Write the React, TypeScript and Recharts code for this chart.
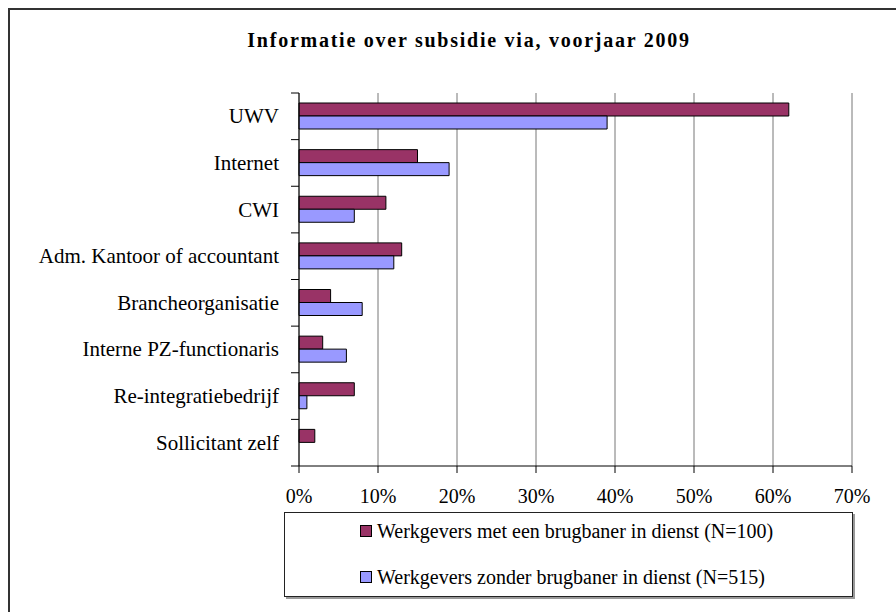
import React from "react";
import { BarChart, Bar, XAxis, YAxis, CartesianGrid, Legend } from "recharts";

const categories = [
  "UWV",
  "Internet",
  "CWI",
  "Adm. Kantoor of accountant",
  "Brancheorganisatie",
  "Interne PZ-functionaris",
  "Re-integratiebedrijf",
  "Sollicitant zelf",
];
const metBrugbaner = [62, 15, 11, 13, 4, 3, 7, 2];
const zonderBrugbaner = [39, 19, 7, 12, 8, 6, 1, 0];
const seriesNames = [
  "Werkgevers met een brugbaner in dienst (N=100)",
  "Werkgevers zonder brugbaner in dienst (N=515)",
];
const xTicks = [0, 10, 20, 30, 40, 50, 60, 70];
const title = "Informatie over subsidie via, voorjaar 2009";

const data = categories.map((c, i) => ({
  name: c,
  met: metBrugbaner[i],
  zonder: zonderBrugbaner[i],
}));

const FONT = "Liberation Serif, Tinos, Times New Roman, Times, DejaVu Serif, serif";
const W = 896;
const H = 612;
const M = { top: 93, right: 44, bottom: 0, left: 0 };
const XAXIS_H = 146;
const PLOT_H = H - M.top - M.bottom - XAXIS_H;
const BAND = PLOT_H / categories.length;

const YTick = (props: any) => {
  const { x, y, payload, index } = props;
  const axisX = x + 20;
  return (
    <g>
      <line x1={axisX - 8} x2={axisX} y1={y - BAND / 2} y2={y - BAND / 2} stroke="#000" />
      {index === categories.length - 1 && (
        <line x1={axisX - 8} x2={axisX} y1={y + BAND / 2} y2={y + BAND / 2} stroke="#000" />
      )}
      <text
        x={x}
        y={y}
        textAnchor="end"
        dominantBaseline="central"
        style={{ fontFamily: FONT, fontSize: 21 }}
        fill="#000"
      >
        {payload.value}
      </text>
    </g>
  );
};

const LegendContent = (props: any) => {
  const { payload } = props;
  return (
    <div
      style={{
        width: "100%",
        height: "100%",
        boxSizing: "border-box",
        border: "1px solid #222",
        boxShadow: "2px 2px 0 #999",
        background: "#fff",
        fontFamily: FONT,
        fontSize: 20,
        position: "relative",
      }}
    >
      {(payload || []).map((p: any, i: number) => (
        <div
          key={i}
          style={{
            position: "absolute",
            left: 75,
            top: i === 0 ? 6 : 52,
            height: 24,
            display: "flex",
            alignItems: "center",
            whiteSpace: "nowrap",
            color: "#000",
          }}
        >
          <span
            style={{
              display: "inline-block",
              width: 10,
              height: 10,
              background: p.color,
              border: "1px solid #000",
              marginRight: 5,
            }}
          />
          <span>{p.value}</span>
        </div>
      ))}
    </div>
  );
};

export default function App() {
  return (
    <div
      style={{
        position: "fixed",
        left: 0,
        top: 0,
        width: W,
        height: H,
        background: "#fff",
        overflow: "hidden",
      }}
    >
      <div
        style={{
          position: "absolute",
          left: 8,
          top: 8,
          width: 900,
          height: 700,
          border: "2px solid #333",
        }}
      />
      <div
        style={{
          position: "absolute",
          left: 25,
          width: 888,
          top: 29,
          textAlign: "center",
          fontFamily: FONT,
          fontWeight: "bold",
          fontSize: 20,
          letterSpacing: 1.75,
          color: "#000",
        }}
      >
        {title}
      </div>
      <div style={{ position: "absolute", left: 0, top: 0 }}>
        <BarChart
          width={W}
          height={H}
          data={data}
          layout="vertical"
          margin={M}
          barSize={13}
          barGap={0}
        >
          <CartesianGrid horizontal={false} vertical={true} stroke="#777" />
          <XAxis
            type="number"
            domain={[0, 70]}
            ticks={xTicks}
            interval={0}
            height={XAXIS_H}
            tickFormatter={(v: number) => `${v}%`}
            tickSize={7}
            tickMargin={16}
            axisLine={{ stroke: "#000" }}
            tickLine={{ stroke: "#000" }}
            tick={{ fill: "#000", style: { fontFamily: FONT, fontSize: 20 } }}
          />
          <XAxis
            xAxisId="top"
            orientation="top"
            type="number"
            domain={[0, 70]}
            height={0}
            tick={false}
            tickLine={false}
            axisLine={{ stroke: "#888" }}
          />
          <YAxis
            type="category"
            dataKey="name"
            width={299}
            tickSize={0}
            tickMargin={20}
            interval={0}
            axisLine={{ stroke: "#000" }}
            tickLine={false}
            tick={<YTick />}
          />
          <Legend
            layout="vertical"
            align="center"
            verticalAlign="middle"
            wrapperStyle={{ left: 284, top: 512, width: 569, height: 85 }}
            content={<LegendContent />}
          />
          <Bar
            dataKey="met"
            name={seriesNames[0]}
            fill="#993366"
            stroke="#000"
            strokeWidth={1}
            isAnimationActive={false}
          />
          <Bar
            dataKey="zonder"
            name={seriesNames[1]}
            fill="#9999FF"
            stroke="#000"
            strokeWidth={1}
            isAnimationActive={false}
          />
        </BarChart>
      </div>
    </div>
  );
}
